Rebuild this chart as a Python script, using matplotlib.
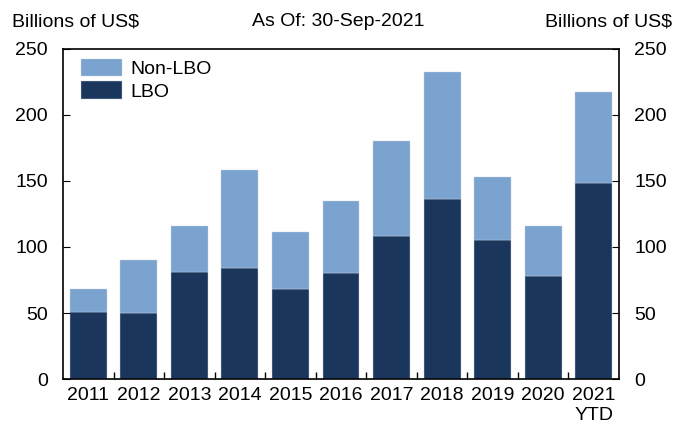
import numpy as np
import matplotlib
matplotlib.use("Agg")
import matplotlib.pyplot as plt
from matplotlib.ticker import FixedLocator

plt.rcParams['font.family'] = ['Liberation Sans', 'DejaVu Sans']

years = ['2011', '2012', '2013', '2014', '2015', '2016', '2017', '2018', '2019', '2020', '2021\nYTD']
lbo = [51, 50, 81, 84, 68, 80, 108, 136, 105, 78, 148.5]
total = [68.5, 90, 116, 158, 111.5, 135, 180.5, 232.5, 153, 116, 217.5]
non_lbo = [t - l for t, l in zip(total, lbo)]

dark = '#1b365d'
light = '#7ba3d0'
fs = 14

fig = plt.figure(figsize=(6.74, 4.28), dpi=100)
ax = fig.add_axes([63/674, 49/428, 556/674, 330/428])

x = np.arange(len(years))
ax.bar(x, lbo, width=0.73, color=dark, label='LBO', edgecolor='#c8d2e0', linewidth=0.3)
ax.bar(x, non_lbo, bottom=lbo, width=0.73, color=light, label='Non-LBO', edgecolor='#c8d2e0', linewidth=0.3)

ax.set_xlim(-0.5, len(years) - 0.5)
ax.set_ylim(0, 250)
ax.set_yticks(range(0, 251, 50))
ax.set_xticks(x)
ax.set_xticklabels(years, fontsize=fs)
ax.tick_params(axis='x', which='major', length=0, pad=6)
# small inward ticks between the bars
ax.xaxis.set_minor_locator(FixedLocator(x[:-1] + 0.5))
ax.tick_params(axis='x', which='minor', direction='in', length=5, width=1)
ax.tick_params(axis='y', direction='in', length=5, labelsize=fs, right=True, labelright=True, pad=11)

for s in ax.spines.values():
    s.set_linewidth(1.2)

h, l = ax.get_legend_handles_labels()
ax.legend(h[::-1], l[::-1], loc='upper left', frameon=False, fontsize=fs,
          handlelength=2.1, handleheight=1.0, labelspacing=0.15, handletextpad=0.45,
          borderaxespad=0.0, borderpad=0.0, bbox_to_anchor=(18/556, 1 - 10/330))

fig.text(12/674, 1 - 22/428, 'Billions of US$', fontsize=fs, ha='left', va='center')
fig.text(338.5/674, 1 - 22/428, 'As Of: 30-Sep-2021', fontsize=fs, ha='center', va='center')
fig.text(672/674, 1 - 22/428, 'Billions of US$', fontsize=fs, ha='right', va='center')

fig.savefig('out.png', dpi=100)
